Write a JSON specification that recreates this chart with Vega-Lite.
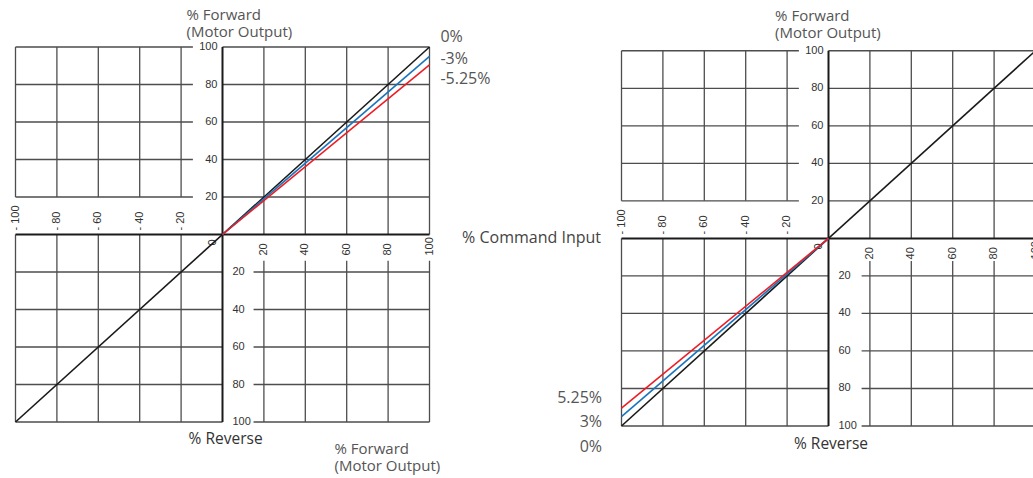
{
  "$schema": "https://vega.github.io/schema/vega-lite/v6.json",
  "background": "white",
  "padding": {"left": 9.5, "top": 8, "right": 0, "bottom": 0},
  "spacing": 192,
  "bounds": "flush",
  "resolve": {"scale": {"color": "independent"}},
  "config": {
    "view": {"stroke": null},
    "axis": {"disable": true},
    "text": {"font": "Liberation Sans"}
  },
  "datasets": {
    "grid": [
      {"v": -100, "xlab": "- 100", "ylab": "100"},
      {"v": -80, "xlab": "- 80", "ylab": "80"},
      {"v": -60, "xlab": "- 60", "ylab": "60"},
      {"v": -40, "xlab": "- 40", "ylab": "40"},
      {"v": -20, "xlab": "- 20", "ylab": "20"},
      {"v": 0, "xlab": "0", "ylab": ""},
      {"v": 20, "xlab": "20", "ylab": "20"},
      {"v": 40, "xlab": "40", "ylab": "40"},
      {"v": 60, "xlab": "60", "ylab": "60"},
      {"v": 80, "xlab": "80", "ylab": "80"},
      {"v": 100, "xlab": "100", "ylab": "100"}
    ],
    "curves": [
      {"panel": "left", "series": "0%", "x": -100, "y": -100},
      {"panel": "left", "series": "0%", "x": 100, "y": 100},
      {"panel": "left", "series": "-3%", "x": 0, "y": 0},
      {"panel": "left", "series": "-3%", "x": 100, "y": 95},
      {"panel": "left", "series": "-5.25%", "x": 0, "y": 0},
      {"panel": "left", "series": "-5.25%", "x": 100, "y": 90.5},
      {"panel": "right", "series": "0%", "x": -100, "y": -100},
      {"panel": "right", "series": "0%", "x": 100, "y": 100},
      {"panel": "right", "series": "3%", "x": 0, "y": 0},
      {"panel": "right", "series": "3%", "x": -100, "y": -95},
      {"panel": "right", "series": "5.25%", "x": 0, "y": 0},
      {"panel": "right", "series": "5.25%", "x": -100, "y": -90.5}
    ],
    "notes": [
      {"id": "fwdTopL", "text": ["% Forward", "(Motor Output)"]},
      {"id": "revL", "text": "% Reverse"},
      {"id": "fwdBotL", "text": ["% Forward", "(Motor Output)"]},
      {"id": "s0L", "text": "0%"},
      {"id": "s3L", "text": "-3%"},
      {"id": "s5L", "text": "-5.25%"},
      {"id": "fwdTopR", "text": ["% Forward", "(Motor Output)"]},
      {"id": "revR", "text": "% Reverse"},
      {"id": "cmdR", "text": "% Command Input"},
      {"id": "s5R", "text": "5.25%"},
      {"id": "s3R", "text": "3%"},
      {"id": "s0R", "text": "0%"}
    ]
  },
  "hconcat": [
    {
      "width": 414,
      "height": 375,
      "layer": [
        {"data": {"name": "grid"}, "transform": [{"filter": "datum.v < 0"}],
         "mark": {"type": "rule", "color": "#4d4d4d", "strokeWidth": 1.3},
         "encoding": {
           "x": {"field": "v", "type": "quantitative", "scale": {"domain": [-100, 100], "nice": false, "zero": false}},
           "y": {"datum": 100, "type": "quantitative", "scale": {"domain": [-100, 100], "nice": false, "zero": false}},
           "y2": {"datum": 20}}},
        {"data": {"name": "grid"}, "transform": [{"filter": "datum.v < 0"}],
         "mark": {"type": "rule", "color": "#4d4d4d", "strokeWidth": 1.3},
         "encoding": {"x": {"field": "v", "type": "quantitative"}, "y": {"datum": 0, "type": "quantitative"}, "y2": {"datum": -100}}},
        {"data": {"name": "grid"}, "transform": [{"filter": "datum.v > 0"}],
         "mark": {"type": "rule", "color": "#4d4d4d", "strokeWidth": 1.3},
         "encoding": {"x": {"field": "v", "type": "quantitative"}, "y": {"datum": 100, "type": "quantitative"}, "y2": {"datum": 0}}},
        {"data": {"name": "grid"}, "transform": [{"filter": "datum.v > 0"}],
         "mark": {"type": "rule", "color": "#4d4d4d", "strokeWidth": 1.3},
         "encoding": {"x": {"field": "v", "type": "quantitative"}, "y": {"datum": -14, "type": "quantitative"}, "y2": {"datum": -100}}},
        {"data": {"name": "grid"}, "transform": [{"filter": "datum.v > 0"}],
         "mark": {"type": "rule", "color": "#4d4d4d", "strokeWidth": 1.3},
         "encoding": {"y": {"field": "v", "type": "quantitative"}, "x": {"datum": -100, "type": "quantitative"}, "x2": {"datum": -14.3}}},
        {"data": {"name": "grid"}, "transform": [{"filter": "datum.v > 0"}],
         "mark": {"type": "rule", "color": "#4d4d4d", "strokeWidth": 1.3},
         "encoding": {"y": {"field": "v", "type": "quantitative"}, "x": {"datum": 0, "type": "quantitative"}, "x2": {"datum": 100}}},
        {"data": {"name": "grid"}, "transform": [{"filter": "datum.v < 0"}],
         "mark": {"type": "rule", "color": "#4d4d4d", "strokeWidth": 1.3},
         "encoding": {"y": {"field": "v", "type": "quantitative"}, "x": {"datum": -100, "type": "quantitative"}, "x2": {"datum": 0}}},
        {"data": {"name": "grid"}, "transform": [{"filter": "datum.v < 0"}],
         "mark": {"type": "rule", "color": "#4d4d4d", "strokeWidth": 1.3},
         "encoding": {"y": {"field": "v", "type": "quantitative"}, "x": {"datum": 15, "type": "quantitative"}, "x2": {"datum": 100}}},
        {"data": {"name": "grid"}, "transform": [{"filter": "datum.v == 0"}],
         "mark": {"type": "rule", "color": "#1a1a1a", "strokeWidth": 2},
         "encoding": {"y": {"field": "v", "type": "quantitative"}, "x": {"datum": -100, "type": "quantitative"}, "x2": {"datum": 100}}},
        {"data": {"name": "grid"}, "transform": [{"filter": "datum.v == 0"}],
         "mark": {"type": "rule", "color": "#1a1a1a", "strokeWidth": 2},
         "encoding": {"x": {"field": "v", "type": "quantitative"}, "y": {"datum": -100, "type": "quantitative"}, "y2": {"datum": 100}}},
        {"data": {"name": "grid"}, "transform": [{"filter": "datum.v > 0"}],
         "mark": {"type": "text", "align": "right", "baseline": "middle", "dx": -5, "fontSize": 11, "color": "#333"},
         "encoding": {"x": {"datum": 0, "type": "quantitative"}, "y": {"field": "v", "type": "quantitative"}, "text": {"field": "ylab", "type": "nominal"}}},
        {"data": {"name": "grid"}, "transform": [{"filter": "datum.v < 0"}],
         "mark": {"type": "text", "align": "left", "baseline": "middle", "dx": 10, "fontSize": 11, "color": "#333"},
         "encoding": {"x": {"datum": 0, "type": "quantitative"}, "y": {"field": "v", "type": "quantitative"}, "text": {"field": "ylab", "type": "nominal"}}},
        {"data": {"name": "grid"}, "transform": [{"filter": "datum.v < 0"}],
         "mark": {"type": "text", "angle": 270, "align": "left", "baseline": "middle", "dx": 4, "fontSize": 11, "color": "#333"},
         "encoding": {"x": {"field": "v", "type": "quantitative"}, "y": {"datum": 0, "type": "quantitative"}, "text": {"field": "xlab", "type": "nominal"}}},
        {"data": {"name": "grid"}, "transform": [{"filter": "datum.v > 0"}],
         "mark": {"type": "text", "angle": 270, "align": "left", "baseline": "middle", "dx": -21, "fontSize": 11, "color": "#333"},
         "encoding": {"x": {"field": "v", "type": "quantitative"}, "y": {"datum": 0, "type": "quantitative"}, "text": {"field": "xlab", "type": "nominal"}}},
        {"data": {"name": "grid"}, "transform": [{"filter": "datum.v == 0"}],
         "mark": {"type": "text", "angle": 270, "align": "center", "baseline": "middle", "dx": -8, "dy": -10, "fontSize": 11, "color": "#333"},
         "encoding": {"x": {"field": "v", "type": "quantitative"}, "y": {"datum": 0, "type": "quantitative"}, "text": {"field": "xlab", "type": "nominal"}}},
        {"data": {"name": "curves"}, "transform": [{"filter": "datum.panel == 'left'"}],
         "mark": {"type": "line", "strokeWidth": 1.6},
         "encoding": {
           "x": {"field": "x", "type": "quantitative"},
           "y": {"field": "y", "type": "quantitative"},
           "color": {"field": "series", "type": "nominal", "scale": {"domain": ["0%", "-3%", "-5.25%"], "range": ["#1a1a1a", "#1b75bc", "#ed1c24"]}, "legend": null}}},
        {"data": {"name": "notes"}, "transform": [{"filter": "datum.id == 'fwdTopL'"}],
         "mark": {"type": "text", "align": "left", "baseline": "alphabetic", "font": "Open Sans", "fontSize": 15, "lineHeight": 17, "color": "#555"},
         "encoding": {"x": {"datum": -17.4, "type": "quantitative"}, "y": {"datum": 114.2, "type": "quantitative"}, "text": {"field": "text", "type": "nominal"}}},
        {"data": {"name": "notes"}, "transform": [{"filter": "datum.id == 'revL'"}],
         "mark": {"type": "text", "align": "center", "baseline": "alphabetic", "font": "Open Sans", "fontSize": 15.5, "color": "#333"},
         "encoding": {"x": {"datum": 1.5, "type": "quantitative"}, "y": {"datum": -111.9, "type": "quantitative"}, "text": {"field": "text", "type": "nominal"}}},
        {"data": {"name": "notes"}, "transform": [{"filter": "datum.id == 'fwdBotL'"}],
         "mark": {"type": "text", "align": "left", "baseline": "alphabetic", "font": "Open Sans", "fontSize": 15, "lineHeight": 17, "color": "#555"},
         "encoding": {"x": {"datum": 54.1, "type": "quantitative"}, "y": {"datum": -117.2, "type": "quantitative"}, "text": {"field": "text", "type": "nominal"}}},
        {"data": {"name": "notes"}, "transform": [{"filter": "datum.id == 's0L'"}],
         "mark": {"type": "text", "align": "left", "baseline": "alphabetic", "font": "Open Sans", "fontSize": 16, "color": "#555"},
         "encoding": {"x": {"datum": 105.3, "type": "quantitative"}, "y": {"datum": 102.5, "type": "quantitative"}, "text": {"field": "text", "type": "nominal"}}},
        {"data": {"name": "notes"}, "transform": [{"filter": "datum.id == 's3L'"}],
         "mark": {"type": "text", "align": "left", "baseline": "alphabetic", "font": "Open Sans", "fontSize": 16, "color": "#555"},
         "encoding": {"x": {"datum": 105.3, "type": "quantitative"}, "y": {"datum": 91, "type": "quantitative"}, "text": {"field": "text", "type": "nominal"}}},
        {"data": {"name": "notes"}, "transform": [{"filter": "datum.id == 's5L'"}],
         "mark": {"type": "text", "align": "left", "baseline": "alphabetic", "font": "Open Sans", "fontSize": 16, "color": "#555"},
         "encoding": {"x": {"datum": 105.3, "type": "quantitative"}, "y": {"datum": 80.1, "type": "quantitative"}, "text": {"field": "text", "type": "nominal"}}}
      ]
    },
    {
      "width": 414,
      "height": 379,
      "layer": [
        {"data": {"name": "grid"}, "transform": [{"filter": "datum.v < 0"}],
         "mark": {"type": "rule", "color": "#4d4d4d", "strokeWidth": 1.3},
         "encoding": {
           "x": {"field": "v", "type": "quantitative", "scale": {"domain": [-100, 100], "nice": false, "zero": false}},
           "y": {"datum": 100, "type": "quantitative", "scale": {"domain": [-100, 102], "nice": false, "zero": false}},
           "y2": {"datum": 20}}},
        {"data": {"name": "grid"}, "transform": [{"filter": "datum.v < 0"}],
         "mark": {"type": "rule", "color": "#4d4d4d", "strokeWidth": 1.3},
         "encoding": {"x": {"field": "v", "type": "quantitative"}, "y": {"datum": 0, "type": "quantitative"}, "y2": {"datum": -100}}},
        {"data": {"name": "grid"}, "transform": [{"filter": "datum.v > 0"}],
         "mark": {"type": "rule", "color": "#4d4d4d", "strokeWidth": 1.3},
         "encoding": {"x": {"field": "v", "type": "quantitative"}, "y": {"datum": 100, "type": "quantitative"}, "y2": {"datum": 0}}},
        {"data": {"name": "grid"}, "transform": [{"filter": "datum.v > 0"}],
         "mark": {"type": "rule", "color": "#4d4d4d", "strokeWidth": 1.3},
         "encoding": {"x": {"field": "v", "type": "quantitative"}, "y": {"datum": -12, "type": "quantitative"}, "y2": {"datum": -100}}},
        {"data": {"name": "grid"}, "transform": [{"filter": "datum.v > 0"}],
         "mark": {"type": "rule", "color": "#4d4d4d", "strokeWidth": 1.3},
         "encoding": {"y": {"field": "v", "type": "quantitative"}, "x": {"datum": -100, "type": "quantitative"}, "x2": {"datum": -14.3}}},
        {"data": {"name": "grid"}, "transform": [{"filter": "datum.v > 0"}],
         "mark": {"type": "rule", "color": "#4d4d4d", "strokeWidth": 1.3},
         "encoding": {"y": {"field": "v", "type": "quantitative"}, "x": {"datum": 0, "type": "quantitative"}, "x2": {"datum": 100}}},
        {"data": {"name": "grid"}, "transform": [{"filter": "datum.v < 0"}],
         "mark": {"type": "rule", "color": "#4d4d4d", "strokeWidth": 1.3},
         "encoding": {"y": {"field": "v", "type": "quantitative"}, "x": {"datum": -100, "type": "quantitative"}, "x2": {"datum": 0}}},
        {"data": {"name": "grid"}, "transform": [{"filter": "datum.v < 0"}],
         "mark": {"type": "rule", "color": "#4d4d4d", "strokeWidth": 1.3},
         "encoding": {"y": {"field": "v", "type": "quantitative"}, "x": {"datum": 16, "type": "quantitative"}, "x2": {"datum": 100}}},
        {"data": {"name": "grid"}, "transform": [{"filter": "datum.v == 0"}],
         "mark": {"type": "rule", "color": "#1a1a1a", "strokeWidth": 2},
         "encoding": {"y": {"field": "v", "type": "quantitative"}, "x": {"datum": -100, "type": "quantitative"}, "x2": {"datum": 100}}},
        {"data": {"name": "grid"}, "transform": [{"filter": "datum.v == 0"}],
         "mark": {"type": "rule", "color": "#1a1a1a", "strokeWidth": 2},
         "encoding": {"x": {"field": "v", "type": "quantitative"}, "y": {"datum": -100, "type": "quantitative"}, "y2": {"datum": 100}}},
        {"data": {"name": "grid"}, "transform": [{"filter": "datum.v > 0"}],
         "mark": {"type": "text", "align": "right", "baseline": "middle", "dx": -5, "fontSize": 11, "color": "#333"},
         "encoding": {"x": {"datum": 0, "type": "quantitative"}, "y": {"field": "v", "type": "quantitative"}, "text": {"field": "ylab", "type": "nominal"}}},
        {"data": {"name": "grid"}, "transform": [{"filter": "datum.v < 0"}],
         "mark": {"type": "text", "align": "left", "baseline": "middle", "dx": 10, "fontSize": 11, "color": "#333"},
         "encoding": {"x": {"datum": 0, "type": "quantitative"}, "y": {"field": "v", "type": "quantitative"}, "text": {"field": "ylab", "type": "nominal"}}},
        {"data": {"name": "grid"}, "transform": [{"filter": "datum.v < 0"}],
         "mark": {"type": "text", "angle": 270, "align": "left", "baseline": "middle", "dx": 4, "fontSize": 11, "color": "#333"},
         "encoding": {"x": {"field": "v", "type": "quantitative"}, "y": {"datum": 0, "type": "quantitative"}, "text": {"field": "xlab", "type": "nominal"}}},
        {"data": {"name": "grid"}, "transform": [{"filter": "datum.v > 0"}],
         "mark": {"type": "text", "angle": 270, "align": "left", "baseline": "middle", "dx": -21, "fontSize": 11, "color": "#333"},
         "encoding": {"x": {"field": "v", "type": "quantitative"}, "y": {"datum": 0, "type": "quantitative"}, "text": {"field": "xlab", "type": "nominal"}}},
        {"data": {"name": "grid"}, "transform": [{"filter": "datum.v == 0"}],
         "mark": {"type": "text", "angle": 270, "align": "center", "baseline": "middle", "dx": -8, "dy": -10, "fontSize": 11, "color": "#333"},
         "encoding": {"x": {"field": "v", "type": "quantitative"}, "y": {"datum": 0, "type": "quantitative"}, "text": {"field": "xlab", "type": "nominal"}}},
        {"data": {"name": "curves"}, "transform": [{"filter": "datum.panel == 'right'"}],
         "mark": {"type": "line", "strokeWidth": 1.6},
         "encoding": {
           "x": {"field": "x", "type": "quantitative"},
           "y": {"field": "y", "type": "quantitative"},
           "color": {"field": "series", "type": "nominal", "scale": {"domain": ["0%", "3%", "5.25%"], "range": ["#1a1a1a", "#1b75bc", "#ed1c24"]}, "legend": null}}},
        {"data": {"name": "notes"}, "transform": [{"filter": "datum.id == 'fwdTopR'"}],
         "mark": {"type": "text", "align": "left", "baseline": "alphabetic", "font": "Open Sans", "fontSize": 15, "lineHeight": 17, "color": "#555"},
         "encoding": {"x": {"datum": -25.8, "type": "quantitative"}, "y": {"datum": 116, "type": "quantitative"}, "text": {"field": "text", "type": "nominal"}}},
        {"data": {"name": "notes"}, "transform": [{"filter": "datum.id == 'revR'"}],
         "mark": {"type": "text", "align": "center", "baseline": "alphabetic", "font": "Open Sans", "fontSize": 15.5, "color": "#333"},
         "encoding": {"x": {"datum": 1.2, "type": "quantitative"}, "y": {"datum": -112.1, "type": "quantitative"}, "text": {"field": "text", "type": "nominal"}}},
        {"data": {"name": "notes"}, "transform": [{"filter": "datum.id == 'cmdR'"}],
         "mark": {"type": "text", "align": "right", "baseline": "alphabetic", "font": "Open Sans", "fontSize": 16, "color": "#444"},
         "encoding": {"x": {"datum": -109.9, "type": "quantitative"}, "y": {"datum": -2.3, "type": "quantitative"}, "text": {"field": "text", "type": "nominal"}}},
        {"data": {"name": "notes"}, "transform": [{"filter": "datum.id == 's5R'"}],
         "mark": {"type": "text", "align": "right", "baseline": "alphabetic", "font": "Open Sans", "fontSize": 16, "color": "#555"},
         "encoding": {"x": {"datum": -109.4, "type": "quantitative"}, "y": {"datum": -87.6, "type": "quantitative"}, "text": {"field": "text", "type": "nominal"}}},
        {"data": {"name": "notes"}, "transform": [{"filter": "datum.id == 's3R'"}],
         "mark": {"type": "text", "align": "right", "baseline": "alphabetic", "font": "Open Sans", "fontSize": 16, "color": "#555"},
         "encoding": {"x": {"datum": -109.4, "type": "quantitative"}, "y": {"datum": -100.4, "type": "quantitative"}, "text": {"field": "text", "type": "nominal"}}},
        {"data": {"name": "notes"}, "transform": [{"filter": "datum.id == 's0R'"}],
         "mark": {"type": "text", "align": "right", "baseline": "alphabetic", "font": "Open Sans", "fontSize": 16, "color": "#555"},
         "encoding": {"x": {"datum": -109.4, "type": "quantitative"}, "y": {"datum": -113.7, "type": "quantitative"}, "text": {"field": "text", "type": "nominal"}}}
      ]
    }
  ]
}
